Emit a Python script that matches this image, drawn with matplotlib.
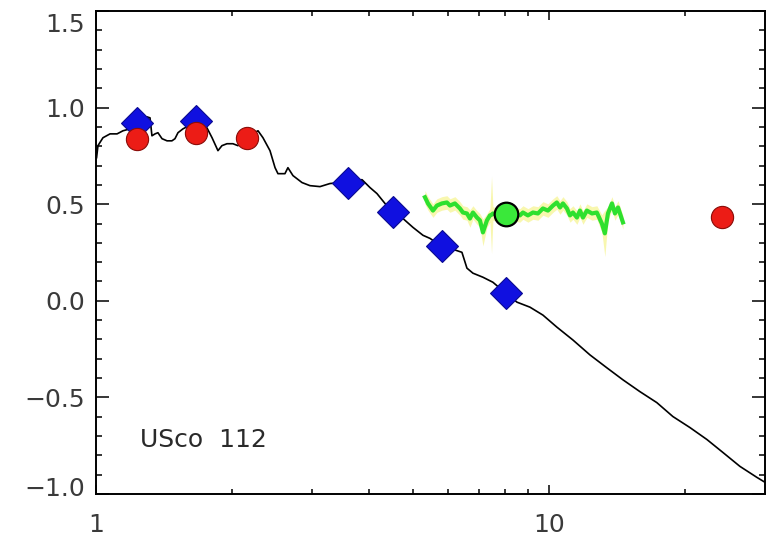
import numpy as np
import matplotlib
matplotlib.use("Agg")
import matplotlib.pyplot as plt
from matplotlib.ticker import FixedLocator, NullFormatter
import matplotlib.transforms as mtransforms

# === Data ===
# black model spectrum
spec_x = [1.003, 1.01, 1.036, 1.074, 1.113, 1.147, 1.189, 1.27, 1.296, 1.316, 1.329,
          1.35, 1.37, 1.399, 1.435, 1.471, 1.494, 1.517, 1.556, 1.663, 1.758, 1.804,
          1.859, 1.897, 1.946, 2.006, 2.058, 2.154, 2.279, 2.337, 2.422, 2.485, 2.522,
          2.613, 2.653, 2.722, 2.85, 2.968, 3.123, 3.286, 3.6, 3.867, 4.027, 4.172,
          4.345, 4.525, 4.761, 5.01, 5.272, 5.463, 5.775, 5.954, 6.426, 6.592, 6.796,
          7.15, 7.522, 8.025, 8.501, 9.082, 9.7, 10.41, 11.3, 12.32, 13.43, 14.57,
          15.88, 17.31, 18.78, 20.48, 22.33, 24.22, 26.41, 28.79, 29.98]
spec_y = [0.741, 0.803, 0.844, 0.864, 0.864, 0.88, 0.89, 0.942, 0.952, 0.947, 0.854,
          0.864, 0.87, 0.839, 0.828, 0.828, 0.839, 0.87, 0.89, 0.925, 0.895, 0.844,
          0.777, 0.803, 0.813, 0.813, 0.803, 0.85, 0.88, 0.844, 0.777, 0.689, 0.658,
          0.658, 0.689, 0.648, 0.612, 0.596, 0.591, 0.607, 0.615, 0.627, 0.586, 0.555,
          0.504, 0.46, 0.426, 0.38, 0.339, 0.323, 0.285, 0.277, 0.251, 0.169, 0.143,
          0.122, 0.096, 0.04, -0.007, -0.033, -0.074, -0.136, -0.203, -0.28, -0.347,
          -0.409, -0.47, -0.527, -0.599, -0.656, -0.718, -0.785, -0.857, -0.914, -0.939]

# green IRS spectrum and its uncertainty
irs_x = [5.325, 5.407, 5.546, 5.659, 5.805, 5.954, 6.046, 6.201, 6.361, 6.459, 6.592,
         6.693, 6.796, 6.936, 7.043, 7.15, 7.297, 7.41, 7.47, 7.522, 7.8, 8.3, 8.63,
         8.763, 8.988, 9.219, 9.456, 9.7, 9.95, 10.21, 10.41, 10.58, 10.74, 10.96,
         11.13, 11.3, 11.53, 11.71, 11.89, 12.13, 12.45, 12.76, 13.09, 13.29, 13.5,
         13.78, 13.99, 14.21, 14.57]
irs_y = [0.536, 0.504, 0.467, 0.493, 0.504, 0.509, 0.493, 0.504, 0.478, 0.457, 0.452,
         0.426, 0.457, 0.431, 0.416, 0.354, 0.416, 0.442, 0.445, 0.452, 0.44, 0.45, 0.442,
         0.457, 0.442, 0.457, 0.452, 0.478, 0.467, 0.493, 0.509, 0.483, 0.504, 0.478,
         0.442, 0.457, 0.431, 0.467, 0.431, 0.467, 0.452, 0.457, 0.4, 0.349, 0.452,
         0.504, 0.452, 0.483, 0.406]
irs_err = [0.035, 0.035, 0.035, 0.035, 0.035, 0.035, 0.035, 0.035, 0.035, 0.035, 0.035,
           0.045, 0.035, 0.035, 0.035, 0.07, 0.035, 0.035, 0.2, 0.035, 0.035, 0.035, 0.035,
           0.035, 0.035, 0.035, 0.035, 0.035, 0.035, 0.035, 0.035, 0.035, 0.035, 0.035,
           0.035, 0.035, 0.035, 0.035, 0.035, 0.035, 0.035, 0.035, 0.045, 0.12, 0.035,
           0.035, 0.035, 0.035, 0.035]

# photometry
blue_x = [1.232, 1.663, 3.6, 4.52, 5.8, 8.02]
blue_y = [0.921, 0.932, 0.612, 0.462, 0.283, 0.041]
red_x = [1.232, 1.663, 2.154, 24.1]
red_y = [0.839, 0.87, 0.844, 0.433]
green_x = [8.02]
green_y = [0.45]

label = "USco  112"

FONT = "DejaVu Sans"

# === Figure ===
fig = plt.figure(figsize=(7.71, 5.43), dpi=100)
ax = fig.add_axes([96 / 771, 1 - 494 / 543, (765 - 96) / 771, (494 - 11) / 543])

lo = np.array(irs_y) - np.array(irs_err)
hi = np.array(irs_y) + np.array(irs_err)
ax.fill_between(irs_x, lo, hi, color="#f4f27a", alpha=0.6, lw=0, zorder=1)
ax.plot(irs_x, irs_y, color="#2ee02e", lw=3.0, zorder=2)
ax.plot(spec_x, spec_y, color="black", lw=1.2, zorder=3)

ax.plot(blue_x, blue_y, "D", ms=16, color="#1010e0", mec="#0a0a90", mew=0.8, zorder=4)
ax.plot(red_x, red_y, "o", ms=16, color="#ec1c16", mec="#8a0c08", mew=0.8, zorder=5)
ax.plot(green_x, green_y, "o", ms=17, color="#3ae83a", mec="black", mew=1.6, zorder=6)

ax.text(1.25, -0.755, label, fontsize=18, color="#2a2a2a", family=FONT,
        va="baseline", ha="left")

# === Axes styling ===
ax.set_xscale("log")
ax.set_xlim(1, 30)
ax.set_ylim(-1.0, 1.5)

ax.xaxis.set_major_locator(FixedLocator([1, 10]))
ax.set_xticklabels(["1", "10"])
ax.xaxis.set_minor_locator(FixedLocator([2, 3, 4, 5, 6, 7, 8, 9, 20]))
ax.xaxis.set_minor_formatter(NullFormatter())
ax.yaxis.set_major_locator(FixedLocator([-1.0, -0.5, 0.0, 0.5, 1.0, 1.5]))
ax.set_yticklabels(["\u22121.0", "\u22120.5", "0.0", "0.5", "1.0", "1.5"])
ax.yaxis.set_minor_locator(FixedLocator(np.round(np.arange(-1.0, 1.51, 0.1), 2)))

ax.tick_params(axis="both", which="both", direction="in", top=True, right=True,
               colors="black", labelcolor="#3a3a3a", labelsize=18, width=1.1)
ax.tick_params(axis="y", which="major", length=9.5, pad=8)
ax.tick_params(axis="y", which="minor", length=4.5)
ax.tick_params(axis="x", which="major", length=6.5, pad=14)
ax.tick_params(axis="x", which="minor", length=3.5)
for lab in ax.get_xticklabels() + ax.get_yticklabels():
    lab.set_family(FONT)

for s in ax.spines.values():
    s.set_linewidth(1.4)

# nudge top and bottom y labels inward like the original
yticks = ax.yaxis.get_major_ticks()
yticks[0].label1.set_transform(yticks[0].label1.get_transform() +
                               mtransforms.ScaledTranslation(0, 8 / 100, fig.dpi_scale_trans))
yticks[-1].label1.set_transform(yticks[-1].label1.get_transform() +
                                mtransforms.ScaledTranslation(0, -12 / 100, fig.dpi_scale_trans))

fig.savefig("out.png", dpi=100)
